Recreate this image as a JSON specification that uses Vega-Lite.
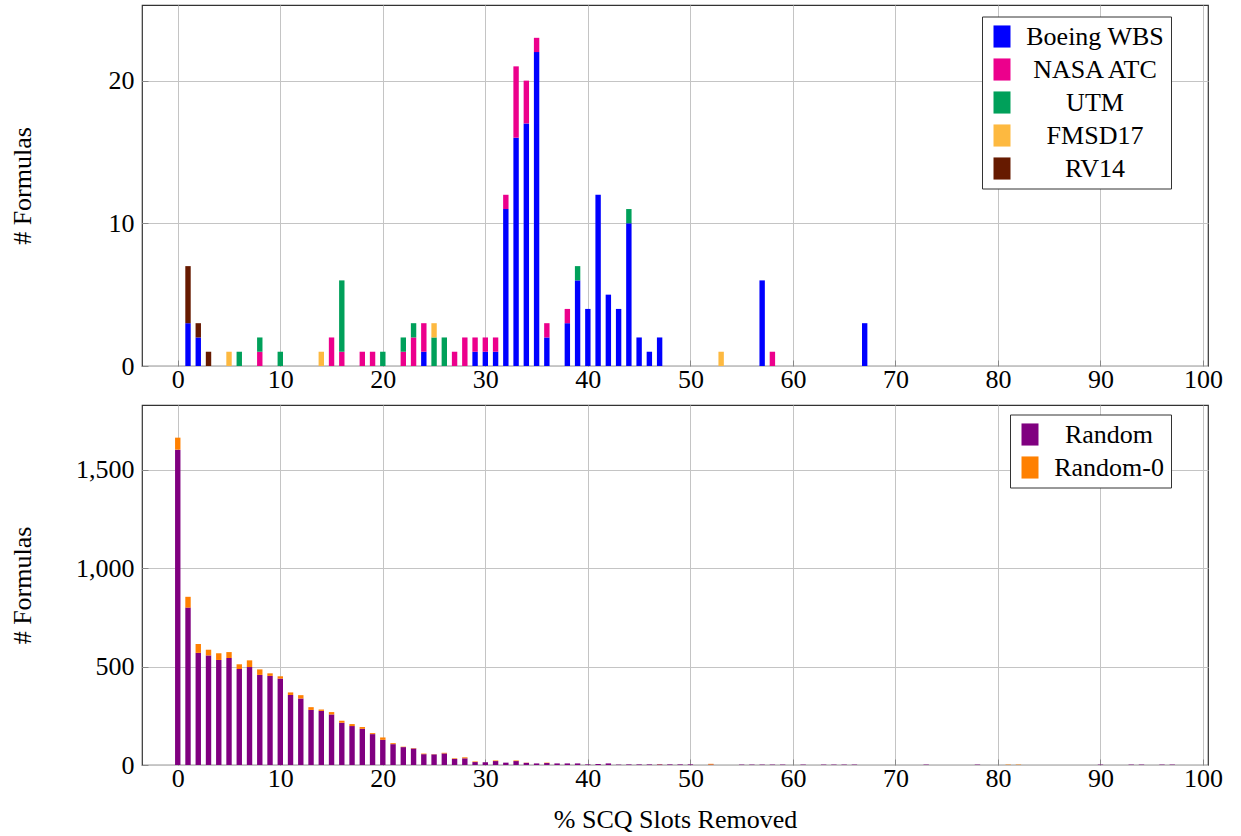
{
  "$schema": "https://vega.github.io/schema/vega-lite/v6.json",
  "padding": {"left": 8, "top": 4, "right": 20, "bottom": 5},
  "spacing": 39,
  "bounds": "flush",
  "config": {
    "font": "Liberation Serif, DejaVu Serif, serif",
    "view": {"stroke": "#333333", "strokeWidth": 1.2},
    "axis": {
      "labelFont": "Liberation Serif, DejaVu Serif, serif", "labelFontSize": 26, "labelColor": "#000",
      "titleFont": "Liberation Serif, DejaVu Serif, serif", "titleFontSize": 26, "titleFontWeight": "normal", "titleColor": "#000",
      "domain": false, "grid": true, "gridColor": "#c4c4c4", "gridWidth": 1,
      "ticks": true, "tickSize": -6, "tickColor": "#888888", "tickWidth": 1
    },
    "legend": {
      "labelFont": "Liberation Serif, DejaVu Serif, serif", "labelFontSize": 26, "labelColor": "#000",
      "strokeColor": "#333333", "fillColor": "#ffffff", "padding": 7, "cornerRadius": 0,
      "symbolType": "M-1,-1.3H1V1.3H-1Z", "symbolSize": 289, "symbolStrokeWidth": 0, "symbolOpacity": 1,
      "labelAlign": "center", "rowPadding": 7, "labelLimit": 400
    }
  },
  "datasets": {
    "top": [
      {"p": 1, "s": "Boeing WBS", "n": 3}, {"p": 1, "s": "RV14", "n": 4},
      {"p": 2, "s": "Boeing WBS", "n": 2}, {"p": 2, "s": "RV14", "n": 1},
      {"p": 3, "s": "RV14", "n": 1},
      {"p": 5, "s": "FMSD17", "n": 1},
      {"p": 6, "s": "UTM", "n": 1},
      {"p": 8, "s": "NASA ATC", "n": 1}, {"p": 8, "s": "UTM", "n": 1},
      {"p": 10, "s": "UTM", "n": 1},
      {"p": 14, "s": "FMSD17", "n": 1},
      {"p": 15, "s": "NASA ATC", "n": 2},
      {"p": 16, "s": "NASA ATC", "n": 1}, {"p": 16, "s": "UTM", "n": 5},
      {"p": 18, "s": "NASA ATC", "n": 1},
      {"p": 19, "s": "NASA ATC", "n": 1},
      {"p": 20, "s": "UTM", "n": 1},
      {"p": 22, "s": "NASA ATC", "n": 1}, {"p": 22, "s": "UTM", "n": 1},
      {"p": 23, "s": "NASA ATC", "n": 2}, {"p": 23, "s": "UTM", "n": 1},
      {"p": 24, "s": "Boeing WBS", "n": 1}, {"p": 24, "s": "NASA ATC", "n": 2},
      {"p": 25, "s": "UTM", "n": 2}, {"p": 25, "s": "FMSD17", "n": 1},
      {"p": 26, "s": "UTM", "n": 2},
      {"p": 27, "s": "NASA ATC", "n": 1},
      {"p": 28, "s": "NASA ATC", "n": 2},
      {"p": 29, "s": "Boeing WBS", "n": 1}, {"p": 29, "s": "NASA ATC", "n": 1},
      {"p": 30, "s": "Boeing WBS", "n": 1}, {"p": 30, "s": "NASA ATC", "n": 1},
      {"p": 31, "s": "Boeing WBS", "n": 1}, {"p": 31, "s": "NASA ATC", "n": 1},
      {"p": 32, "s": "Boeing WBS", "n": 11}, {"p": 32, "s": "NASA ATC", "n": 1},
      {"p": 33, "s": "Boeing WBS", "n": 16}, {"p": 33, "s": "NASA ATC", "n": 5},
      {"p": 34, "s": "Boeing WBS", "n": 17}, {"p": 34, "s": "NASA ATC", "n": 3},
      {"p": 35, "s": "Boeing WBS", "n": 22}, {"p": 35, "s": "NASA ATC", "n": 1},
      {"p": 36, "s": "Boeing WBS", "n": 2}, {"p": 36, "s": "NASA ATC", "n": 1},
      {"p": 38, "s": "Boeing WBS", "n": 3}, {"p": 38, "s": "NASA ATC", "n": 1},
      {"p": 39, "s": "Boeing WBS", "n": 6}, {"p": 39, "s": "UTM", "n": 1},
      {"p": 40, "s": "Boeing WBS", "n": 4},
      {"p": 41, "s": "Boeing WBS", "n": 12},
      {"p": 42, "s": "Boeing WBS", "n": 5},
      {"p": 43, "s": "Boeing WBS", "n": 4},
      {"p": 44, "s": "Boeing WBS", "n": 10}, {"p": 44, "s": "UTM", "n": 1},
      {"p": 45, "s": "Boeing WBS", "n": 2},
      {"p": 46, "s": "Boeing WBS", "n": 1},
      {"p": 47, "s": "Boeing WBS", "n": 2},
      {"p": 53, "s": "FMSD17", "n": 1},
      {"p": 57, "s": "Boeing WBS", "n": 6},
      {"p": 58, "s": "NASA ATC", "n": 1},
      {"p": 67, "s": "Boeing WBS", "n": 3}
    ],
    "bottom": [
      {"p": 0, "s": "Random", "n": 1603}, {"p": 0, "s": "Random-0", "n": 61},
      {"p": 1, "s": "Random", "n": 800}, {"p": 1, "s": "Random-0", "n": 55},
      {"p": 2, "s": "Random", "n": 570}, {"p": 2, "s": "Random-0", "n": 45},
      {"p": 3, "s": "Random", "n": 557}, {"p": 3, "s": "Random-0", "n": 29},
      {"p": 4, "s": "Random", "n": 534}, {"p": 4, "s": "Random-0", "n": 34},
      {"p": 5, "s": "Random", "n": 544}, {"p": 5, "s": "Random-0", "n": 30},
      {"p": 6, "s": "Random", "n": 488}, {"p": 6, "s": "Random-0", "n": 24},
      {"p": 7, "s": "Random", "n": 498}, {"p": 7, "s": "Random-0", "n": 34},
      {"p": 8, "s": "Random", "n": 458}, {"p": 8, "s": "Random-0", "n": 28},
      {"p": 9, "s": "Random", "n": 453}, {"p": 9, "s": "Random-0", "n": 13},
      {"p": 10, "s": "Random", "n": 439}, {"p": 10, "s": "Random-0", "n": 12},
      {"p": 11, "s": "Random", "n": 356}, {"p": 11, "s": "Random-0", "n": 13},
      {"p": 12, "s": "Random", "n": 338}, {"p": 12, "s": "Random-0", "n": 17},
      {"p": 13, "s": "Random", "n": 280}, {"p": 13, "s": "Random-0", "n": 14},
      {"p": 14, "s": "Random", "n": 275}, {"p": 14, "s": "Random-0", "n": 7},
      {"p": 15, "s": "Random", "n": 257}, {"p": 15, "s": "Random-0", "n": 12},
      {"p": 16, "s": "Random", "n": 215}, {"p": 16, "s": "Random-0", "n": 10},
      {"p": 17, "s": "Random", "n": 198}, {"p": 17, "s": "Random-0", "n": 10},
      {"p": 18, "s": "Random", "n": 184}, {"p": 18, "s": "Random-0", "n": 9},
      {"p": 19, "s": "Random", "n": 157}, {"p": 19, "s": "Random-0", "n": 5},
      {"p": 20, "s": "Random", "n": 128}, {"p": 20, "s": "Random-0", "n": 12},
      {"p": 21, "s": "Random", "n": 106}, {"p": 21, "s": "Random-0", "n": 5},
      {"p": 22, "s": "Random", "n": 91}, {"p": 22, "s": "Random-0", "n": 2},
      {"p": 23, "s": "Random", "n": 84}, {"p": 23, "s": "Random-0", "n": 2},
      {"p": 24, "s": "Random", "n": 55}, {"p": 24, "s": "Random-0", "n": 3},
      {"p": 25, "s": "Random", "n": 54}, {"p": 25, "s": "Random-0", "n": 1},
      {"p": 26, "s": "Random", "n": 59}, {"p": 26, "s": "Random-0", "n": 3},
      {"p": 27, "s": "Random", "n": 31}, {"p": 27, "s": "Random-0", "n": 3},
      {"p": 28, "s": "Random", "n": 34}, {"p": 28, "s": "Random-0", "n": 5},
      {"p": 29, "s": "Random", "n": 15}, {"p": 29, "s": "Random-0", "n": 3},
      {"p": 30, "s": "Random", "n": 14},
      {"p": 31, "s": "Random", "n": 20}, {"p": 31, "s": "Random-0", "n": 3},
      {"p": 32, "s": "Random", "n": 12},
      {"p": 33, "s": "Random", "n": 20}, {"p": 33, "s": "Random-0", "n": 3},
      {"p": 34, "s": "Random", "n": 11}, {"p": 34, "s": "Random-0", "n": 1},
      {"p": 35, "s": "Random", "n": 8},
      {"p": 36, "s": "Random", "n": 10}, {"p": 36, "s": "Random-0", "n": 2},
      {"p": 37, "s": "Random", "n": 8},
      {"p": 38, "s": "Random", "n": 8},
      {"p": 39, "s": "Random", "n": 8},
      {"p": 40, "s": "Random", "n": 3},
      {"p": 41, "s": "Random", "n": 5},
      {"p": 42, "s": "Random", "n": 8},
      {"p": 43, "s": "Random", "n": 2},
      {"p": 44, "s": "Random", "n": 3},
      {"p": 45, "s": "Random", "n": 3},
      {"p": 46, "s": "Random", "n": 3},
      {"p": 47, "s": "Random", "n": 3}, {"p": 47, "s": "Random-0", "n": 1},
      {"p": 48, "s": "Random", "n": 3},
      {"p": 49, "s": "Random", "n": 3},
      {"p": 50, "s": "Random", "n": 3},
      {"p": 52, "s": "Random", "n": 2}, {"p": 52, "s": "Random-0", "n": 4},
      {"p": 55, "s": "Random", "n": 2},
      {"p": 56, "s": "Random", "n": 2},
      {"p": 57, "s": "Random", "n": 2},
      {"p": 58, "s": "Random", "n": 2},
      {"p": 59, "s": "Random", "n": 2},
      {"p": 61, "s": "Random", "n": 2},
      {"p": 63, "s": "Random", "n": 2},
      {"p": 64, "s": "Random", "n": 2},
      {"p": 65, "s": "Random", "n": 2},
      {"p": 66, "s": "Random", "n": 2},
      {"p": 73, "s": "Random", "n": 2},
      {"p": 78, "s": "Random", "n": 2},
      {"p": 81, "s": "Random-0", "n": 2},
      {"p": 82, "s": "Random-0", "n": 2},
      {"p": 90, "s": "Random", "n": 2},
      {"p": 93, "s": "Random", "n": 2},
      {"p": 94, "s": "Random", "n": 2},
      {"p": 96, "s": "Random", "n": 2},
      {"p": 97, "s": "Random", "n": 2}
    ]
  },
  "vconcat": [
    {
      "width": 1066,
      "height": 361,
      "data": {"name": "top"},
      "transform": [
        {"calculate": "indexof(['Boeing WBS', 'NASA ATC', 'UTM', 'FMSD17', 'RV14'], datum.s)", "as": "rank"}
      ],
      "mark": {"type": "bar", "size": 5.4},
      "encoding": {
        "x": {
          "field": "p", "type": "quantitative",
          "scale": {"domain": [-3, 100], "nice": false, "zero": false},
          "axis": {"title": null, "values": [0, 10, 20, 30, 40, 50, 60, 70, 80, 90, 100], "labelPadding": 6, "labelFlush": false}
        },
        "y": {
          "field": "n", "type": "quantitative", "stack": "zero",
          "scale": {"domain": [0, 25.3], "nice": false},
          "axis": {"title": "# Formulas", "values": [0, 10, 20], "labelPadding": 14, "titleX": -120, "titleBaseline": "middle"}
        },
        "order": {"field": "rank", "type": "quantitative", "sort": "ascending"},
        "color": {
          "field": "s", "type": "nominal",
          "sort": ["Boeing WBS", "NASA ATC", "UTM", "FMSD17", "RV14"],
          "scale": {
            "domain": ["Boeing WBS", "NASA ATC", "UTM", "FMSD17", "RV14"],
            "range": ["#0000ff", "#ec008c", "#00a05a", "#fdb940", "#661a00"]
          },
          "legend": {"title": null, "orient": "none", "legendX": 840, "legendY": 11.5, "labelOffset": 80}
        }
      }
    },
    {
      "width": 1066,
      "height": 360,
      "data": {"name": "bottom"},
      "mark": {"type": "bar", "size": 5.4},
      "encoding": {
        "x": {
          "field": "p", "type": "quantitative",
          "scale": {"domain": [-3, 100], "nice": false, "zero": false},
          "axis": {"title": "% SCQ Slots Removed", "values": [0, 10, 20, 30, 40, 50, 60, 70, 80, 90, 100], "labelPadding": 6, "labelFlush": false, "titleY": 62, "titleBaseline": "alphabetic"}
        },
        "y": {
          "field": "n", "type": "quantitative", "stack": "zero",
          "scale": {"domain": [0, 1830], "nice": false},
          "axis": {"title": "# Formulas", "values": [0, 500, 1000, 1500], "format": ",.0f", "labelPadding": 14, "titleX": -120, "titleBaseline": "middle"}
        },
        "order": {"field": "s", "type": "nominal", "sort": "ascending"},
        "color": {
          "field": "s", "type": "nominal",
          "sort": ["Random", "Random-0"],
          "scale": {"domain": ["Random", "Random-0"], "range": ["#800080", "#ff8000"]},
          "legend": {"title": null, "orient": "none", "legendX": 868, "legendY": 9.5, "labelOffset": 66}
        }
      }
    }
  ],
  "resolve": {"scale": {"color": "independent", "x": "independent", "y": "independent"}, "legend": {"color": "independent"}}
}
